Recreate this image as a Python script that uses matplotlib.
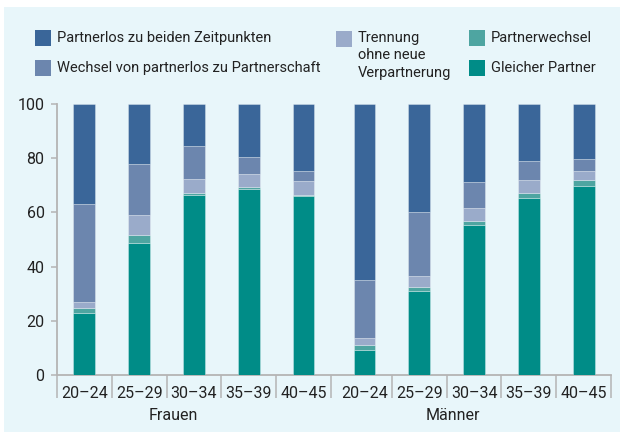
import matplotlib
matplotlib.use("Agg")
import matplotlib.pyplot as plt
from matplotlib.patches import Rectangle
import numpy as np

plt.rcParams['font.family'] = ['Roboto', 'DejaVu Sans']

# ---- data ----
categories = ['20–24', '25–29', '30–34', '35–39', '40–45']
groups = ['Frauen', 'Männer']
series_names = ['Gleicher Partner', 'Partnerwechsel', 'Trennung\nohne neue\nVerpartnerung',
                'Wechsel von partnerlos zu Partnerschaft', 'Partnerlos zu beiden Zeitpunkten']

gleicher_f = [23.0, 48.7, 66.6, 68.7, 66.1]
partnerwechsel_f = [1.7, 3.0, 0.7, 0.7, 0.5]
trennung_f = [2.1, 7.2, 5.0, 4.7, 4.9]
wechsel_pl_f = [36.3, 18.9, 12.2, 6.3, 3.6]
partnerlos_f = [36.9, 22.2, 15.5, 19.6, 24.9]

gleicher_m = [9.2, 30.9, 55.4, 65.4, 69.9]
partnerwechsel_m = [1.8, 1.7, 1.4, 1.7, 2.0]
trennung_m = [2.7, 4.1, 4.7, 5.0, 3.3]
wechsel_pl_m = [21.4, 23.3, 9.6, 6.8, 4.5]
partnerlos_m = [64.9, 40.0, 28.9, 21.1, 20.3]

colors = ['#008c87', '#4ea5a1', '#9aabca', '#6c86ae', '#3a6699']

# ---- layout ----
W, H = 620, 432
fig = plt.figure(figsize=(W / 100, H / 100), dpi=100)
fig.patch.set_facecolor('white')
bg = '#e8f6fa'
fig.add_artist(Rectangle((4 / W, 0), 1 - 4 / W, 1 - 7 / H, transform=fig.transFigure,
                         facecolor=bg, edgecolor='none', zorder=-10))

ax_left, ax_right, ax_top, ax_bottom = 57, 611, 104, 375
ax = fig.add_axes([ax_left / W, 1 - ax_bottom / H, (ax_right - ax_left) / W, (ax_bottom - ax_top) / H])
ax.set_facecolor('none')

n = len(categories)
group_gap = 0.114
pos_f = np.arange(n, dtype=float)
pos_m = np.arange(n, dtype=float) + n + group_gap
positions = np.concatenate([pos_f, pos_m])

stack = [
    np.array(gleicher_f + gleicher_m),
    np.array(partnerwechsel_f + partnerwechsel_m),
    np.array(trennung_f + trennung_m),
    np.array(wechsel_pl_f + wechsel_pl_m),
    np.array(partnerlos_f + partnerlos_m),
]
bottom = np.zeros(len(positions))
for vals, c in zip(stack, colors):
    ax.bar(positions, vals, bottom=bottom, width=0.4, color=c,
           edgecolor=(1, 1, 1, 0.35), linewidth=0.6, zorder=3)
    bottom += vals

ax.set_ylim(0, 100)
ax.set_xlim(-0.5, pos_m[-1] + 0.5)

spine_c = '#b4b4b4'
for s in ['top', 'right']:
    ax.spines[s].set_visible(False)
for s in ['left', 'bottom']:
    ax.spines[s].set_color(spine_c)
    ax.spines[s].set_linewidth(1.3)

ax.set_yticks([0, 20, 40, 60, 80, 100])
ax.tick_params(axis='y', length=4, width=1.1, color=spine_c, labelsize=11.5,
               labelcolor='#222222', pad=5)

ax.set_xticks(positions)
ax.set_xticklabels(categories * 2)
ax.tick_params(axis='x', which='major', length=0, labelsize=11.5, labelcolor='#222222', pad=8)
bounds = sorted(set(list(pos_f - 0.5) + list(pos_f + 0.5) + list(pos_m + 0.5)))
ax.set_xticks(bounds, minor=True)
ax.tick_params(axis='x', which='minor', length=16.5, width=1.1, color=spine_c)

# group labels
for g, p in zip(groups, [pos_f, pos_m]):
    ax.text(p.mean() - 0.38, -0.148, g, transform=ax.get_xaxis_transform(),
            ha='center', va='center', fontsize=11.5, color='#222222')

# ---- legend ----
def fx(px):
    return px / W

def fy(py):
    return 1 - py / H

leg_items = [
    (series_names[4], colors[4], 35, 38),
    (series_names[3], colors[3], 35, 68),
    (series_names[2], colors[2], 336, 39),
    (series_names[1], colors[1], 469, 38),
    (series_names[0], colors[0], 469, 68),
]
for name, c, x, y in leg_items:
    fig.add_artist(Rectangle((fx(x), fy(y + 8)), 16 / W, 16 / H, transform=fig.transFigure,
                             facecolor=c, edgecolor='none'))
    if '\n' in name:
        fig.text(fx(x + 22), fy(y - 8), name, ha='left', va='top', fontsize=10.5,
                 color='#222222', linespacing=1.3)
    else:
        fig.text(fx(x + 22), fy(y), name, ha='left', va='center', fontsize=10.5, color='#222222')

fig.savefig('out.png', dpi=100, facecolor=fig.get_facecolor())
